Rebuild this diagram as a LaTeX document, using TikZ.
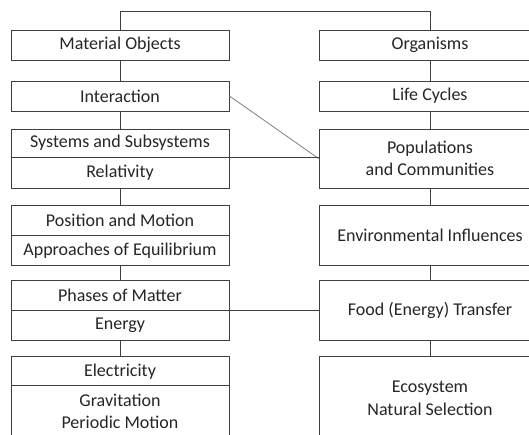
\documentclass[tikz,border=0pt]{standalone}
\usepackage{fontspec}
\setmainfont{Carlito}
\definecolor{boxline}{HTML}{3F3F3F}
\definecolor{boxtext}{HTML}{262626}
\begin{document}
    \begin{tikzpicture}[x=1pt,y=-1pt,
        box/.style={draw=boxline,line width=0.9pt,text=boxtext,inner sep=0pt,align=center,font=\fontsize{18}{22.5}\selectfont},
        lbox/.style={box,minimum width=218pt},
        rbox/.style={box,minimum width=222pt},
        link/.style={draw=boxline,line width=0.8pt}]
        \useasboundingbox[fill=white](0,0) rectangle (529,434);
        \clip (0,0) rectangle (529,434);
        \node[lbox,minimum height=30pt](matobj) at (120,45){Material Objects};
        \node[lbox,minimum height=30pt](inter) at (120,96){Interaction};
        \node[lbox,minimum height=28pt](sys) at (120,143){Systems and Subsystems};
        \node[lbox,minimum height=31pt](rel) at (120,172.5){Relativity};
        \node[lbox,minimum height=30.7pt](pos) at (120,220.3){Position and Motion};
        \node[lbox,minimum height=29.3pt](appr) at (120,250.3){Approaches of Equilibrium};
        \node[lbox,minimum height=29.6pt](phases) at (120,295.5){Phases of Matter};
        \node[lbox,minimum height=30.4pt](energy) at (120,325.5){Energy};
        \node[lbox,minimum height=29pt](elec) at (120,371.2){Electricity};
        \node[lbox,minimum height=51.6pt](grav) at (120,411.5){Gravitation\\Periodic Motion};
        \node[rbox,minimum height=30pt](org) at (430,45){Organisms};
        \node[rbox,minimum height=30pt](life) at (430,96){Life Cycles};
        \node[rbox,minimum height=59pt](pop) at (430,158.5){Populations\\and Communities};
        \node[rbox,minimum height=60pt](env) at (430,235){Environmental Influences};
        \node[rbox,minimum height=60pt](food) at (430,310.7){Food (Energy) Transfer};
        \node[rbox,minimum height=83.3pt](eco) at (430,398.3){Ecosystem\\Natural Selection};
        \draw[link](matobj.north)--++(0,-18)-|(org.north);
        \draw[link](matobj)--(inter);
        \draw[link](inter)--(sys);
        \draw[link](rel)--(pos);
        \draw[link](appr)--(phases);
        \draw[link](energy)--(elec);
        \draw[link](org)--(life);
        \draw[link](life)--(pop);
        \draw[link](pop)--(env);
        \draw[link](env)--(food);
        \draw[link](food)--(eco);
        \draw[link,draw=gray](inter.east)--(pop.west);
        \draw[link](sys.south east)--(sys.south east-|pop.west);
        \draw[link](phases.south east)--(phases.south east-|food.west);
    \end{tikzpicture}
\end{document}
